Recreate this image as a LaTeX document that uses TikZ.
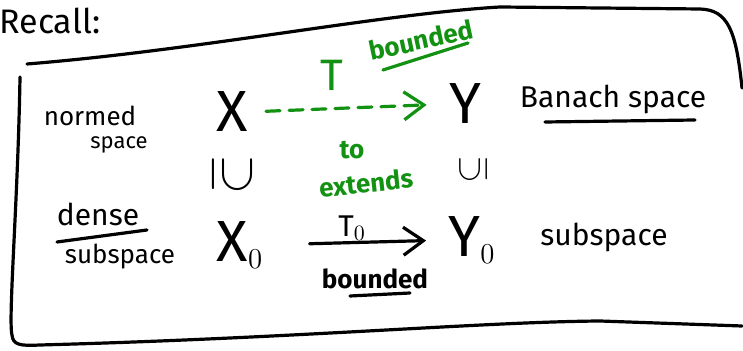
\documentclass[tikz,border=0pt]{standalone}
\usepackage{fontspec}
\setmainfont{Fira Sans}
\usepackage{xcolor}
\usepackage{tikz}
\usetikzlibrary{arrows.meta,positioning,calc}

\definecolor{penGreen}{RGB}{18,145,18}

\tikzset{
  pen/.style={line width=1.6pt,line cap=round,line join=round},
  hand/.style={inner sep=0pt,font=\fontsize{13}{14}\selectfont},
  big/.style={inner sep=0pt,font=\fontsize{29}{30}\selectfont},
  barb/.style={-{Straight Barb[length=10pt,width=14pt,line width=1.6pt]}},
}

\begin{document}
\begin{tikzpicture}[x=0.5pt,y=-0.5pt]
\useasboundingbox (0,0) rectangle (743,351);
% the frame
\draw[pen] (27,64) .. controls (200,50) and (380,14) .. (500,7) -- (700,9)
  .. controls (728,10) and (736,30) .. (742,88);
\draw[pen] (20,77) .. controls (18,200) and (8,320) .. (12,335)
  .. controls (13,345) and (20,346) .. (40,345)
  .. controls (300,338) and (480,322) .. (600,321) -- (742,326);

\node[hand,font=\fontsize{17}{18}\selectfont] (recall) at (50,21) {Recall:};

% top row
\node[hand] (normed) at (90,116) {normed};
\node[hand,font=\fontsize{11}{12}\selectfont] (spaceA) at (119,145) {space};
\node[big] (X) at (232,112) {X};
\node[big] (Y) at (465,104) {Y};
\node[hand,font=\fontsize{15}{16}\selectfont] (banach) at (613,99) {Banach space};
\draw[pen] (545,122) -- (695,120);

% extension T
\node[big,text=penGreen,font=\fontsize{22}{22}\selectfont] (T) at (332,75) {T};
\node[hand,text=penGreen,rotate=12] (bndA) at (421,40) {\bfseries bounded};
\draw[pen,penGreen] (383,70) -- (468,43);
\draw[pen,penGreen,barb,dash pattern=on 7pt off 4.5pt,shorten <=9pt,shorten >=11pt]
  (X.east) -- (Y.west);

% inclusions
\node[inner sep=0pt] (incX) at (232,175) {\scalebox{2.6}{\rotatebox{-90}{$\supseteq$}}};
\node[inner sep=0pt] (incY) at (473,170) {\scalebox{1.8}{\rotatebox{90}{$\subseteq$}}};
\node[hand,text=penGreen] (to) at (352,150) {\bfseries to};
\node[hand,text=penGreen,rotate=6] (extends) at (366,183) {\bfseries extends};

% bottom row
\node[hand,font=\fontsize{15}{16}\selectfont] (dense) at (98,214) {dense};
\draw[pen] (57,242) -- (147,230);
\node[hand] (subA) at (120,257) {subspace};
\node[big] (X0) at (240,245) {X$_{\scriptscriptstyle 0}$};
\node[big] (Y0) at (472,240) {Y$_{\scriptscriptstyle 0}$};
\node[hand,font=\fontsize{15}{16}\selectfont] (subB) at (604,237) {subspace};
\node[hand,font=\fontsize{15}{16}\selectfont] (T0) at (352,228) {T$_0$};
\node[hand] (bndB) at (375,279) {\bfseries bounded};
\draw[pen] (350,296) -- (410,293);
\draw[pen,barb,shorten <=23pt,shorten >=11pt] (X0.east) -- (Y0.west);
\end{tikzpicture}
\end{document}
